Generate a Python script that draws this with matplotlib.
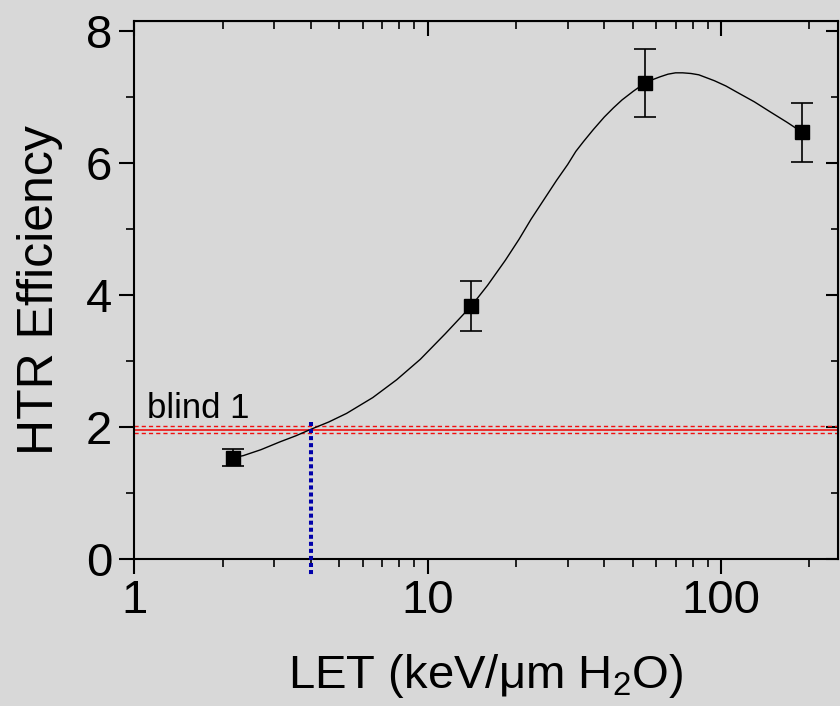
import numpy as np
import matplotlib
matplotlib.use('Agg')
import matplotlib.pyplot as plt
from matplotlib.ticker import MultipleLocator, FixedLocator, NullFormatter

plt.rcParams['font.family'] = ['Liberation Sans', 'DejaVu Sans']
plt.rcParams['mathtext.fontset'] = 'custom'
plt.rcParams['mathtext.rm'] = 'Liberation Sans'
plt.rcParams['mathtext.it'] = 'Liberation Sans:italic'

# measured points
let = [2.17, 14.1, 55.0, 189.0]
eff = [1.54, 3.84, 7.21, 6.47]
err = [0.13, 0.375, 0.515, 0.45]

# fitted curve
curve_x = [2.17, 2.35, 2.7, 3.14, 3.55, 4.0, 4.6, 5.29, 6.5, 7.84, 9.44, 11.5, 14.1, 16.0,
           18.4, 20.5, 22.5, 25.0, 27.5, 30.0, 32.0, 34.0, 36.7, 40.0, 43.0, 46.0, 50.2,
           54.0, 58.7, 62.0, 66.0, 70.0, 74.0, 79.0, 84.0, 95.0, 104.0, 113.0, 130.0,
           147.0, 168.0, 189.0]
curve_y = [1.54, 1.57, 1.66, 1.78, 1.87, 1.97, 2.08, 2.21, 2.45, 2.72, 3.03, 3.42, 3.84, 4.15,
           4.53, 4.85, 5.15, 5.46, 5.74, 5.98, 6.18, 6.33, 6.51, 6.70, 6.84, 6.96, 7.09,
           7.19, 7.27, 7.31, 7.35, 7.37, 7.37, 7.36, 7.34, 7.25, 7.17, 7.08, 6.93,
           6.78, 6.62, 6.47]

blind_mean = 1.965
blind_band = [2.02, 1.91]
blind_let = 4.0

bg = '#d8d8d8'
fig = plt.figure(figsize=(8.4, 7.06), dpi=100, facecolor=bg)
ax = fig.add_axes([0.1599, 0.2078, 0.8374, 0.7629], facecolor=bg)

ax.set_xscale('log')
ax.set_xlim(1, 250)
ax.set_ylim(0, 8.16)

ax.plot(curve_x, curve_y, color='black', lw=1.0, zorder=3)
ax.errorbar(let, eff, yerr=err, fmt='s', color='black', ms=9.5, elinewidth=1.2,
            capsize=8, capthick=1.2, zorder=4)

ax.axhline(blind_mean, color='#f01010', lw=1.2, zorder=2)
for b in blind_band:
    ax.axhline(b, color='#f01010', lw=1.0, dashes=(3, 2.2), zorder=2)
ax.plot([blind_let, blind_let], [2.08, -0.27], color='#0000aa', lw=2.9,
        dashes=(1, 0.75), clip_on=False, zorder=5)

ax.text(1.105, 2.14, 'blind 1', fontsize=25, va='baseline', ha='left')

ax.yaxis.set_major_locator(MultipleLocator(2))
ax.yaxis.set_minor_locator(MultipleLocator(1))
ax.xaxis.set_major_locator(FixedLocator([1, 10, 100]))
ax.set_xticklabels(['1', '10', '100'])
ax.xaxis.set_minor_formatter(NullFormatter())

ax.tick_params(which='major', direction='out', length=11, width=1.5, labelsize=34, pad=3)
ax.tick_params(which='minor', direction='out', length=6, width=1.2)
ax.tick_params(axis='y', which='major', pad=5)
for s in ax.spines.values():
    s.set_linewidth(1.5)

top = ax.secondary_xaxis('top')
top.xaxis.set_major_locator(FixedLocator([1, 10, 100]))
top.tick_params(which='major', direction='in', length=11, width=1.5, labeltop=False)
top.tick_params(which='minor', direction='in', length=6, width=1.2, labeltop=False)
right = ax.secondary_yaxis('right')
right.yaxis.set_major_locator(MultipleLocator(2))
right.yaxis.set_minor_locator(MultipleLocator(1))
right.tick_params(which='major', direction='in', length=9, width=1.5, labelright=False)
right.tick_params(which='minor', direction='in', length=5, width=1.2, labelright=False)

ax.set_ylabel('HTR Efficiency', fontsize=36)
ax.yaxis.set_label_coords(-0.101, 0.5)
ax.set_xlabel(r'LET (keV/μm H$_2$O)', fontsize=34)
ax.xaxis.set_label_coords(0.5, -0.172)

fig.savefig('out.png', dpi=100, facecolor=bg)
